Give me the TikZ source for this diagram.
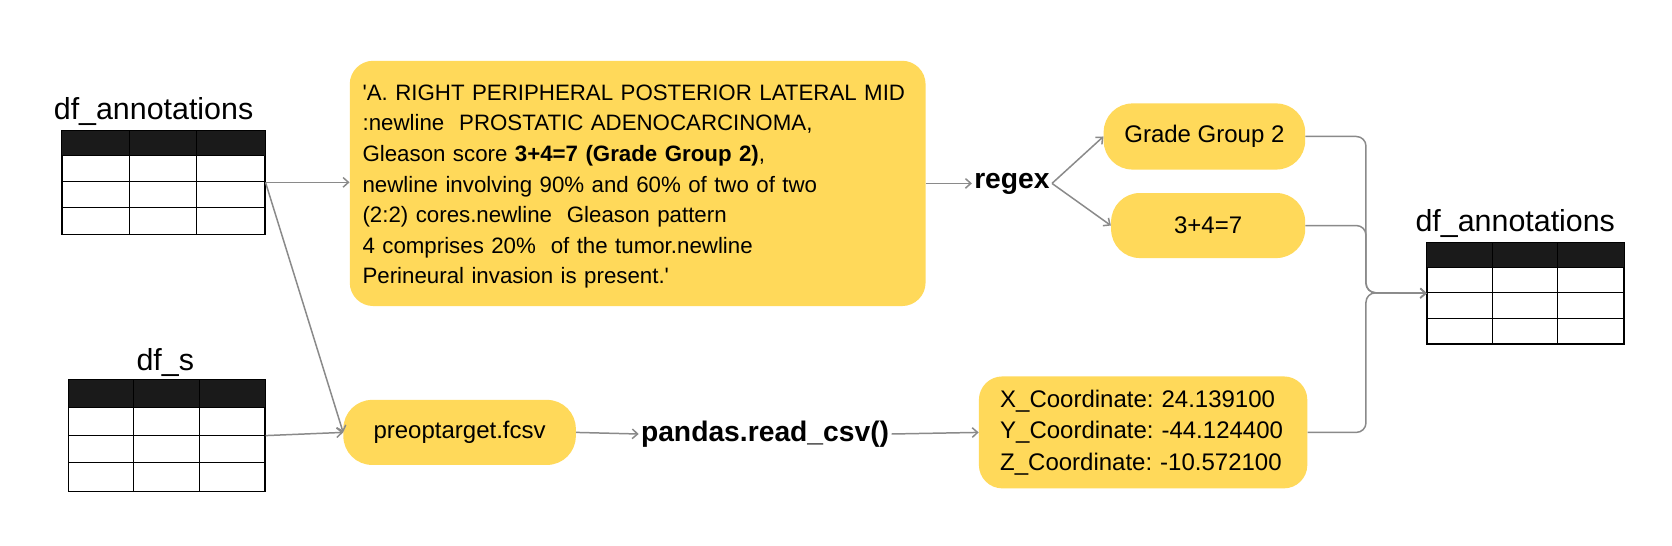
\documentclass[tikz,border=0pt]{standalone}
\usepackage{fontspec}
\setmainfont{Liberation Sans}
\usetikzlibrary{arrows.meta,calc}
\definecolor{yfill}{HTML}{FFD95A}
\definecolor{cgray}{HTML}{8A8A8A}
\definecolor{hdr}{HTML}{1A1A1A}
\newcommand{\dftable}[5]{% name, left, top, width, height
  \node[draw=black, line width=1pt, minimum width=#4pt, minimum height=#5pt, inner sep=0pt, anchor=north west] (#1) at (#2,#3) {};
  \fill[hdr] (#1.north west) rectangle ($(#1.north east)+(0,#5/4)$);
  \foreach \k in {1,2,3} \draw[line width=1pt] ($(#1.north west)+(0,\k*#5/4)$) -- ++(#4,0);
  \foreach \k in {1,2} \draw[line width=1pt] ($(#1.north west)+(\k*#4/3,0)$) -- ++(0,#5);
  \draw[line width=1pt] (#1.north west) rectangle (#1.south east);
}
\begin{document}
\frenchspacing
\begin{tikzpicture}[x=1pt,y=-1pt,
  ybox/.style={fill=yfill, draw=none, rounded corners=22pt, inner sep=0pt},
  pill/.style={ybox, rounded corners=27pt},
  conn/.style={draw=cgray, line width=1.4pt, -{Straight Barb[length=5pt,width=9pt]}},
  body/.style={font=\fontsize{20.9}{28.7}\selectfont},
  pilltext/.style={font=\fontsize{22.5}{29.5}\selectfont},
  boldlab/.style={font=\fontsize{26.5}{30}\selectfont\bfseries, inner sep=2pt},
  tlabel/.style={font=\fontsize{28.5}{32}\selectfont, inner sep=0pt}
]
\fill[white] (0,0) rectangle (1568,512);
\useasboundingbox (0,0) rectangle (1568,512);

% tables
\dftable{t1}{58}{122}{190}{97}
\dftable{t2}{64}{356}{184}{104}
\dftable{t3}{1338}{227}{184}{95}
\node[tlabel, anchor=base] (l1) at (144,112) {df\_annotations};
\node[tlabel, anchor=base] (l2) at (155,347) {df\_s};
\node[tlabel, anchor=base] (l3) at (1421,217) {df\_annotations};

% boxes
\node[ybox, minimum width=540pt, minimum height=230pt] (big) at (598,172) {};
\node[body, inner sep=0pt, text width=516pt, align=left] (bigtxt) at ($(big.center)+(0,3)$) {%
\textquotesingle A. RIGHT PERIPHERAL POSTERIOR LATERAL MID\\
:newline\ \ PROSTATIC ADENOCARCINOMA,\\
Gleason score \textbf{3+4=7 (Grade Group 2)},\\
newline involving 90\% and 60\% of two of two\\
(2:2) cores.newline\ \ Gleason pattern\\
4 comprises 20\%\ \ of the tumor.newline\\
Perineural invasion is present.\textquotesingle};

\node[boldlab] (rx) at (949,172) {regex};
\node[pill, pilltext, minimum width=189pt, minimum height=62pt] (gg) at (1129.5,128) {Grade Group 2};
\node[pill, pilltext, minimum width=182pt, minimum height=61pt] (eq) at (1133,211.5) {3+4=7};

\node[pill, pilltext, minimum width=218pt, minimum height=61pt] (pre) at (431,405.5) {preoptarget.fcsv};
\node[boldlab] (pd) at (717.5,407) {pandas.read\_csv()};
\node[ybox, pilltext, minimum width=308pt, minimum height=105pt, inner xsep=20pt, text width=268pt, align=left] (xyz) at (1072,405.5) {%
X\_Coordinate: 24.139100\\
Y\_Coordinate: -44.124400\\
Z\_Coordinate: -10.572100};

% connectors
\draw[conn] (t1.east) -- (t1.east -| big.west);
\draw[conn] (t1.east) -- (pre.west);
\draw[conn] (t2.east) -- (pre.west);
\draw[conn] (big.east |- rx.west) -- (rx.west);
\draw[conn] (rx.east) -- (gg.west);
\draw[conn] (rx.east) -- (eq.west);
\draw[conn] (pre.east) -- (pd.west);
\draw[conn] (pd.east) -- (xyz.west);

\coordinate (jn) at (1281,274.5);
\draw[conn, rounded corners=9pt] (gg.east) -| (jn) -- (t3.west);
\draw[conn, rounded corners=9pt] (eq.east) -| (jn) -- (t3.west);
\draw[conn, rounded corners=9pt] (xyz.east) -| (jn) -- (t3.west);
\end{tikzpicture}
\end{document}
